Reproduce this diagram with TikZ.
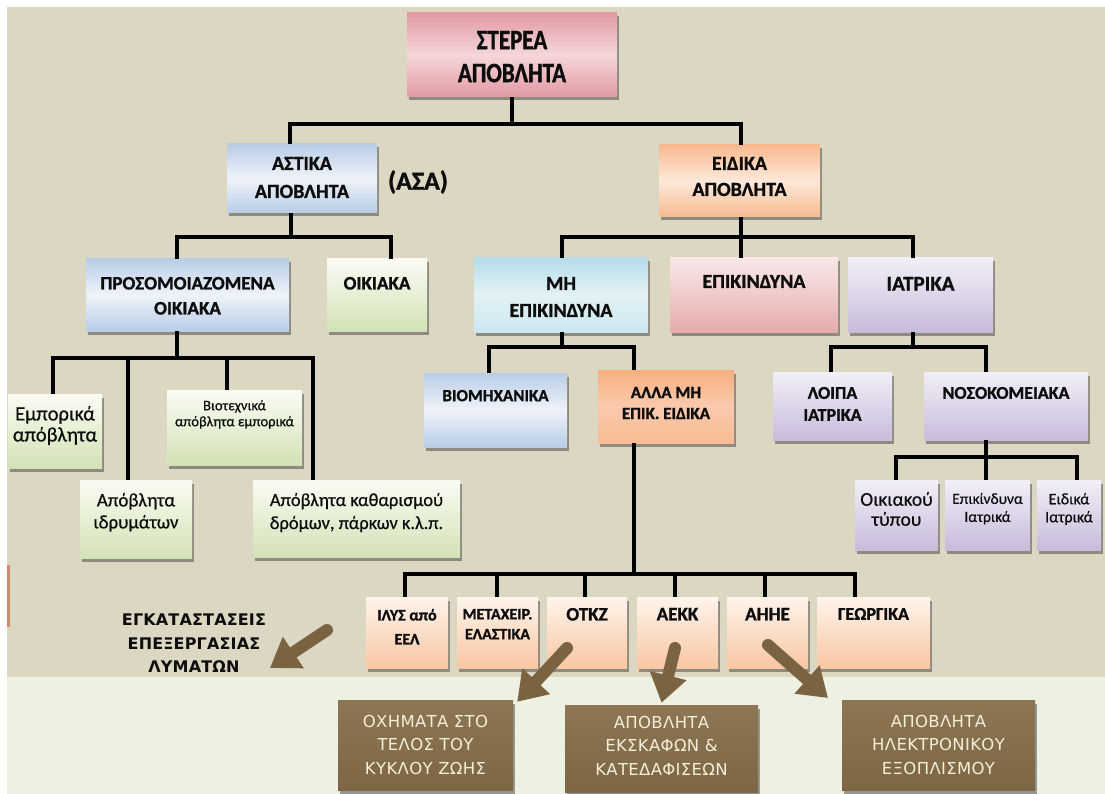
\documentclass[tikz,border=0pt]{standalone}
\usepackage{fontspec}
\setmainfont{Carlito}
\newfontfamily\condf{Carlito}[FakeStretch=0.82, FakeBold=1.2]
\newfontfamily\hdf{Carlito}[FakeBold=1.2]
\newfontfamily\lcf{Carlito}[FakeBold=0.6]
\newfontfamily\tahf{DejaVu Sans}[LetterSpace=2]
\newfontfamily\tahbf{DejaVu Sans}[LetterSpace=1]
\usetikzlibrary{arrows.meta,shadows}
\definecolor{bgtop}{HTML}{DCD7C2}
\definecolor{bgbot}{HTML}{EEF0E2}
\definecolor{rootc}{HTML}{E09AA2}
\definecolor{rootl}{HTML}{F5D6D9}
\definecolor{bluec}{HTML}{B9CDE6}
\definecolor{bluel}{HTML}{EEF3FA}
\definecolor{greenc}{HTML}{D2E2B5}
\definecolor{greenl}{HTML}{FAFCF4}
\definecolor{orc}{HTML}{F8BA8E}
\definecolor{orl}{HTML}{FDE9DA}
\definecolor{ortwo}{HTML}{F7AE80}
\definecolor{orrow}{HTML}{F9C7A3}
\definecolor{orrowl}{HTML}{FEF4EC}
\definecolor{cyanc}{HTML}{B5DDE9}
\definecolor{cyanl}{HTML}{E3F2F6}
\definecolor{pinkc}{HTML}{E6ACAC}
\definecolor{pinkl}{HTML}{F9E8E8}
\definecolor{purc}{HTML}{C8BBDB}
\definecolor{purl}{HTML}{F2EFF7}
\definecolor{brownc}{HTML}{8D7653}
\definecolor{brownd}{HTML}{7D6643}
\definecolor{arrc}{HTML}{7A6340}
\definecolor{browntxt}{HTML}{F3EEDA}
\definecolor{stripc}{HTML}{C98C66}
\tikzset{
  box/.style={draw=none, inner sep=0pt, drop shadow={shadow xshift=1.5pt, shadow yshift=-3.5pt, opacity=0.5, fill=black!75}},
  rootbox/.style={box, top color=rootc, bottom color=rootc, middle color=rootl},
  bluebox/.style={box, top color=bluec, bottom color=bluec, middle color=bluel},
  greenbox/.style={box, top color=greenl, bottom color=greenc},
  orbox/.style={box, top color=orc, bottom color=orc, middle color=orl},
  allabox/.style={box, top color=ortwo, bottom color=ortwo!85!white, middle color=ortwo!65!white},
  rowbox/.style={box, top color=orrowl, bottom color=orrow},
  cyanbox/.style={box, top color=cyanc, bottom color=cyanc!70!white, middle color=cyanl},
  pinkbox/.style={box, top color=pinkl, bottom color=pinkc},
  purbox/.style={box, top color=purl, bottom color=purc},
  brownbox/.style={box, top color=brownc, bottom color=brownd},
  conn/.style={line width=4pt, line join=miter, black},
  txt/.style={anchor=north, align=center, inner sep=0pt, text=black!95},
  btxt/.style={font=\tahf\fontsize{16.5}{23.5}\selectfont, text=browntxt},
  arr/.style={arrc, line width=12pt, line cap=round, -{Triangle[width=36pt,length=28pt]}}
}
% name, x1, y1, x2, y2, box style, text options, top pad, text
\newcommand\bx[9]{%
  \node[#6, minimum width={(#4-#2)*1pt}, minimum height={(#5-#3)*1pt}] (#1) at ({(#2+#4)/2},{(#3+#5)/2}) {};
  \node[txt, #7] (#1-t) at ([yshift=-#8pt]#1.north) {#9};}
\begin{document}
\begin{tikzpicture}[x=1pt, y=-1pt]
\useasboundingbox (0,0) rectangle (1105,794);
\fill[white] (0,0) rectangle (1105,794);
\fill[bgtop] (7,7) rectangle (1105,677);
\fill[bgbot] (7,677) rectangle (1105,794);
\fill[stripc] (7,565) rectangle (9.5,627);

% boxes
\bx{root}{407}{13}{617}{97}{rootbox}{font=\condf\bfseries\fontsize{28}{33}\selectfont}{18}{ΣΤΕΡΕΑ\\ΑΠΟΒΛΗΤΑ}
\bx{astika}{227}{144}{377}{213}{bluebox}{font=\hdf\bfseries\fontsize{20}{28}\selectfont}{13}{ΑΣΤΙΚΑ\\ΑΠΟΒΛΗΤΑ}
\bx{eidika}{659}{145}{820}{217}{orbox}{font=\hdf\bfseries\fontsize{20}{26}\selectfont}{12}{ΕΙΔΙΚΑ\\ΑΠΟΒΛΗΤΑ}
\bx{prosom}{86}{259}{289}{331}{bluebox}{font=\hdf\bfseries\fontsize{19}{25}\selectfont}{18}{ΠΡΟΣΟΜΟΙΑΖΟΜΕΝΑ\\ΟΙΚΙΑΚΑ}
\bx{oikiaka}{327}{259}{427}{331}{greenbox}{font=\hdf\bfseries\fontsize{19}{25}\selectfont}{18}{ΟΙΚΙΑΚΑ}
\bx{mi}{474}{258}{648}{332}{cyanbox}{font=\hdf\bfseries\fontsize{20}{27}\selectfont}{19}{ΜΗ\\ΕΠΙΚΙΝΔΥΝΑ}
\bx{epik}{670}{258}{838}{332}{pinkbox}{font=\hdf\bfseries\fontsize{20}{27}\selectfont}{17}{ΕΠΙΚΙΝΔΥΝΑ}
\bx{iatrika}{848}{258}{993}{332}{purbox}{font=\hdf\bfseries\fontsize{21}{27}\selectfont}{19}{ΙΑΤΡΙΚΑ}
\bx{viomix}{424}{373}{567}{447}{bluebox}{font=\hdf\bfseries\fontsize{17}{21}\selectfont}{17}{ΒΙΟΜΗΧΑΝΙΚΑ}
\bx{alla}{598}{370}{734}{443}{allabox}{font=\hdf\bfseries\fontsize{17}{21}\selectfont}{17}{ΑΛΛΑ ΜΗ\\ΕΠΙΚ. ΕΙΔΙΚΑ}
\bx{loipa}{773}{372}{892}{440}{purbox}{font=\hdf\bfseries\fontsize{18}{22}\selectfont}{15}{ΛΟΙΠΑ\\ΙΑΤΡΙΚΑ}
\bx{noso}{924}{372}{1088}{440}{purbox}{font=\hdf\bfseries\fontsize{18}{22}\selectfont}{15}{ΝΟΣΟΚΟΜΕΙΑΚΑ}
\bx{oikt}{855}{480}{938}{550}{purbox}{font=\lcf\fontsize{19.5}{20}\selectfont}{12}{Οικιακού\\τύπου}
\bx{epikiatr}{945}{480}{1030}{550}{purbox}{font=\lcf\fontsize{15.5}{18}\selectfont}{13}{Επικίνδυνα\\Ιατρικά}
\bx{eidiatr}{1037}{480}{1101}{550}{purbox}{font=\lcf\fontsize{16}{18}\selectfont}{13}{Ειδικά\\Ιατρικά}
\bx{empor}{8}{394}{102}{468}{greenbox}{font=\lcf\fontsize{20.5}{21}\selectfont}{12}{Εμπορικά\\απόβλητα}
\bx{viot}{167}{390}{302}{465}{greenbox}{font=\lcf\fontsize{14.5}{16}\selectfont}{10}{Βιοτεχνικά\\απόβλητα εμπορικά}
\bx{idr}{80}{480}{192}{558}{greenbox}{font=\lcf\fontsize{19}{22}\selectfont}{13}{Απόβλητα\\ιδρυμάτων}
\bx{kath}{253}{480}{460}{557}{greenbox}{font=\lcf\fontsize{18.5}{23}\selectfont}{13}{Απόβλητα καθαρισμού\\δρόμων, πάρκων κ.λ.π.}
\bx{ilys}{366}{597}{448}{668}{rowbox}{font=\hdf\bfseries\fontsize{16}{24}\selectfont}{12}{ΙΛΥΣ από\\ΕΕΛ}
\bx{metax}{457}{597}{538}{668}{rowbox}{font=\hdf\bfseries\fontsize{16}{20}\selectfont}{12}{ΜΕΤΑΧΕΙΡ.\\ΕΛΑΣΤΙΚΑ}
\bx{otkz}{547}{597}{627}{668}{rowbox}{font=\hdf\bfseries\fontsize{19}{23}\selectfont}{11}{ΟΤΚΖ}
\bx{aekk}{637}{597}{718}{668}{rowbox}{font=\hdf\bfseries\fontsize{19}{23}\selectfont}{11}{ΑΕΚΚ}
\bx{ahhe}{727}{597}{808}{668}{rowbox}{font=\hdf\bfseries\fontsize{19}{23}\selectfont}{11}{ΑΗΗΕ}
\bx{georg}{817}{597}{930}{668}{rowbox}{font=\hdf\bfseries\fontsize{18}{23}\selectfont}{11}{ΓΕΩΡΓΙΚΑ}
\bx{ochim}{338}{700}{513}{790}{brownbox}{btxt}{15}{ΟΧΗΜΑΤΑ ΣΤΟ\\ΤΕΛΟΣ ΤΟΥ\\ΚΥΚΛΟΥ ΖΩΗΣ}
\bx{ekskaf}{565}{705}{758}{792}{brownbox}{btxt}{11}{ΑΠΟΒΛΗΤΑ\\ΕΚΣΚΑΦΩΝ \&\\ΚΑΤΕΔΑΦΙΣΕΩΝ}
\bx{ilektr}{842}{700}{1035}{790}{brownbox}{btxt}{15}{ΑΠΟΒΛΗΤΑ\\ΗΛΕΚΤΡΟΝΙΚΟΥ\\ΕΞΟΠΛΙΣΜΟΥ}

% free texts
\node[font=\hdf\bfseries\fontsize{26}{30}\selectfont, text=black!95, inner sep=0pt] (asa) at (418,182) {(ΑΣΑ)};
\node[txt, font=\tahbf\bfseries\fontsize{16}{23.5}\selectfont] (egk) at (194,614) {ΕΓΚΑΤΑΣΤΑΣΕΙΣ\\ΕΠΕΞΕΡΓΑΣΙΑΣ\\ΛΥΜΑΤΩΝ};

% connectors: root
\coordinate (rj) at (512,124);
\coordinate (rl) at (290,124);
\coordinate (rr) at (741,124);
\draw[conn] (root.south -| rj) -- (rj);
\draw[conn] (rl |- astika.north) -- (rl) -- (rr) -- (rr |- eidika.north);
% astika
\coordinate (aj) at (291,237);
\coordinate (al) at (177,237);
\coordinate (ar) at (391,237);
\draw[conn] (astika.south -| aj) -- (aj);
\draw[conn] (al |- prosom.north) -- (al) -- (ar) -- (ar |- oikiaka.north);
% eidika
\coordinate (ej) at (741,237);
\coordinate (el) at (562,237);
\coordinate (er) at (913,237);
\draw[conn] (eidika.south -| ej) -- (ej |- epik.north);
\draw[conn] (el |- mi.north) -- (el) -- (er) -- (er |- iatrika.north);
% mi epikindyna
\coordinate (mj) at (562,347);
\coordinate (ml) at (489,347);
\coordinate (mr) at (634,347);
\draw[conn] (mi.south -| mj) -- (mj);
\draw[conn] (ml |- viomix.north) -- (ml) -- (mr) -- (mr |- alla.north);
% iatrika
\coordinate (ij) at (913,347);
\coordinate (il) at (831,347);
\coordinate (ir) at (986,347);
\draw[conn] (iatrika.south -| ij) -- (ij);
\draw[conn] (il |- loipa.north) -- (il) -- (ir) -- (ir |- noso.north);
% nosokomeiaka
\coordinate (nj) at (986,457);
\coordinate (nl) at (896,457);
\coordinate (nr) at (1077,457);
\draw[conn] (noso.south -| nj) -- (nj |- epikiatr.north);
\draw[conn] (nl |- oikt.north) -- (nl) -- (nr) -- (nr |- eidiatr.north);
% prosomoiazomena
\coordinate (pj) at (177,358);
\coordinate (p1) at (53,358);
\coordinate (p2) at (128,358);
\coordinate (p3) at (227,358);
\coordinate (p4) at (313,358);
\draw[conn] (prosom.south -| pj) -- (pj);
\draw[conn] (p1 |- empor.north) -- (p1) -- (p4) -- (p4 |- kath.north);
\draw[conn] (p2) -- (p2 |- idr.north);
\draw[conn] (p3) -- (p3 |- viot.north);
% alla mi epik eidika
\coordinate (bj) at (634,574);
\coordinate (b1) at (405,574);
\coordinate (b2) at (497,574);
\coordinate (b3) at (585,574);
\coordinate (b4) at (675,574);
\coordinate (b5) at (765,574);
\coordinate (b6) at (855,574);
\draw[conn] (alla.south -| bj) -- (bj);
\draw[conn] (b1 |- ilys.north) -- (b1) -- (b6) -- (b6 |- georg.north);
\draw[conn] (b2) -- (b2 |- metax.north);
\draw[conn] (b3) -- (b3 |- otkz.north);
\draw[conn] (b4) -- (b4 |- aekk.north);
\draw[conn] (b5) -- (b5 |- ahhe.north);

% brown arrows
\coordinate (a1s) at (327,630);
\coordinate (a1e) at (270,668);
\coordinate (a2s) at (567,648);
\coordinate (a3s) at (675,648);
\coordinate (a4s) at (768,645);
\coordinate (a4e) at (828,698);
\draw[arr] (a1s) -- (a1e);
\draw[arr] (a2s) -- ([xshift=4pt,yshift=-2pt]ochim.north east);
\draw[arr] (a3s) -- ([yshift=2pt]ekskaf.north);
\draw[arr] (a4s) -- (a4e);
\end{tikzpicture}
\end{document}
